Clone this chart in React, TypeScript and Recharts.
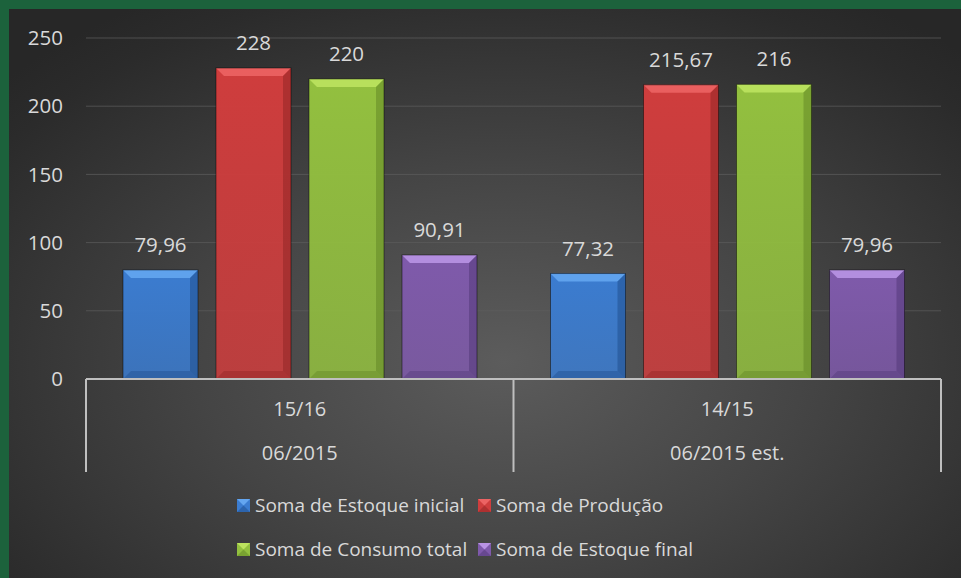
import { BarChart, Bar, XAxis, YAxis, CartesianGrid, LabelList } from 'recharts'

const periods = ['15/16', '14/15']
const months = ['06/2015', '06/2015 est.']
const estoqueInicial = [79.96, 77.32]
const producao = [228, 215.67]
const consumoTotal = [220, 216]
const estoqueFinal = [90.91, 79.96]
const yTicks = [0, 50, 100, 150, 200, 250]

const FONT = '"Open Sans", sans-serif'
const TEXT = '#d9d9d9'

const series = [
  { key: 'estoqueInicial', name: 'Soma de Estoque inicial', main: '#3b7cd0', light: '#64a6f0', dark: '#1d4c8a' },
  { key: 'producao', name: 'Soma de Produção', main: '#cf3d3d', light: '#ec6363', dark: '#8e2424' },
  { key: 'consumoTotal', name: 'Soma de Consumo total', main: '#93c03f', light: '#bde35f', dark: '#5f8324' },
  { key: 'estoqueFinal', name: 'Soma de Estoque final', main: '#7f5aab', light: '#b993e4', dark: '#4f3675' },
]

const data = periods.map((p, i) => ({
  period: p,
  month: months[i],
  estoqueInicial: estoqueInicial[i],
  producao: producao[i],
  consumoTotal: consumoTotal[i],
  estoqueFinal: estoqueFinal[i],
}))

const fmt = (v: any) => Number(v).toLocaleString('pt-BR')

function bevelShape(s: typeof series[number]) {
  return (props: any) => {
    const { x, y, width: w, height: h } = props
    if (!w || !h || h <= 0) return <g />
    const b = Math.min(8, w / 3, h / 3)
    return (
      <g>
        <rect x={x} y={y} width={w} height={h} fill={`url(#grad-${s.key})`} />
        <polygon points={`${x},${y} ${x + w},${y} ${x + w - b},${y + b} ${x + b},${y + b}`} fill={s.light} opacity={0.9} />
        <polygon points={`${x + w},${y} ${x + w - b},${y + b} ${x + w - b},${y + h - b} ${x + w},${y + h}`} fill={s.dark} opacity={0.5} />
        <polygon points={`${x},${y + h} ${x + b},${y + h - b} ${x + w - b},${y + h - b} ${x + w},${y + h}`} fill={s.dark} opacity={0.4} />
        <rect x={x} y={y} width={w} height={h} fill="none" stroke="rgba(0,0,0,0.45)" strokeWidth={1} />
      </g>
    )
  }
}

function CategoryTick(props: any) {
  const { x, y, payload, index } = props
  const half = payload?.offset ?? 213.5
  const row = data[index]
  return (
    <g>
      <line x1={x - half} x2={x - half} y1={y} y2={y + 93} stroke="#bfbfbf" strokeWidth={2} />
      {index === data.length - 1 && (
        <line x1={x + half} x2={x + half} y1={y} y2={y + 93} stroke="#bfbfbf" strokeWidth={2} />
      )}
      <text x={x} y={y + 29} textAnchor="middle" dominantBaseline="central" fill={TEXT} fontSize={20} fontFamily={FONT}>
        {row?.period}
      </text>
      <text x={x} y={y + 73} textAnchor="middle" dominantBaseline="central" fill={TEXT} fontSize={20} fontFamily={FONT}>
        {row?.month}
      </text>
    </g>
  )
}

function Marker({ s }: { s: typeof series[number] }) {
  return (
    <svg width={13} height={13} style={{ marginRight: 5, flex: 'none' }}>
      <rect x={0} y={0} width={13} height={13} fill={s.main} />
      <polygon points="0,0 13,0 6.5,6.5" fill={s.light} />
      <polygon points="0,13 13,13 6.5,6.5" fill={s.dark} opacity={0.5} />
    </svg>
  )
}

export default function App() {
  return (
    <div style={{ position: 'fixed', left: 0, top: 0, width: 961, height: 578, background: '#1c623c' }}>
      <div
        style={{
          position: 'absolute',
          left: 9,
          top: 9,
          width: 952,
          height: 569,
          background: 'radial-gradient(ellipse 70% 75% at 52% 62%, #5c5c5c 0%, #454545 45%, #2b2b2b 90%, #272727 100%)',
        }}
      >
        <BarChart
          width={952}
          height={569}
          data={data}
          margin={{ top: 29, right: 20, bottom: 106, left: 0 }}
          barCategoryGap={37}
          barGap={18}
        >
          <defs>
            {series.map((s) => (
              <linearGradient key={s.key} id={`grad-${s.key}`} x1="0" y1="0" x2="0" y2="1">
                <stop offset="0%" stopColor={s.main} />
                <stop offset="100%" stopColor={s.main} stopOpacity={0.85} />
              </linearGradient>
            ))}
          </defs>
          <CartesianGrid vertical={false} stroke="#5e5e5e" strokeOpacity={0.7} />
          <YAxis
            domain={[0, 250]}
            ticks={yTicks}
            axisLine={false}
            tickLine={false}
            tickSize={0}
            tickMargin={23}
            width={77}
            tick={{ fill: TEXT, fontSize: 20.5, fontFamily: FONT }}
          />
          <XAxis
            dataKey="period"
            axisLine={{ stroke: '#bfbfbf', strokeWidth: 2 }}
            tickLine={false}
            tickSize={0}
            tickMargin={0}
            height={93}
            interval={0}
            tick={<CategoryTick />}
          />
          {series.map((s) => (
            <Bar key={s.key} dataKey={s.key} name={s.name} shape={bevelShape(s)} isAnimationActive={false}>
              <LabelList
                dataKey={s.key}
                position="top"
                offset={18}
                formatter={fmt}
                fill={TEXT}
                fontSize={20.5}
                fontFamily={FONT}
              />
            </Bar>
          ))}
        </BarChart>
        <div
          style={{
            position: 'absolute',
            left: 228,
            top: 483,
            display: 'grid',
            gridTemplateColumns: '241px auto',
            rowGap: 18,
            fontFamily: FONT,
            fontSize: 19,
            color: TEXT,
          }}
        >
          {series.map((s) => (
            <div key={s.key} style={{ display: 'flex', alignItems: 'center', height: 26, whiteSpace: 'nowrap' }}>
              <Marker s={s} />
              {s.name}
            </div>
          ))}
        </div>
      </div>
    </div>
  )
}
